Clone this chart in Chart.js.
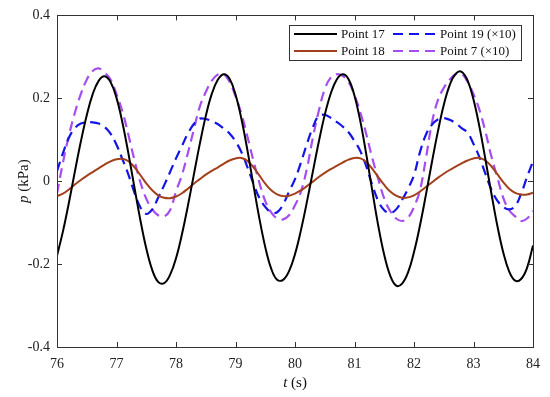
<!DOCTYPE html>
<html>
<head>
<meta charset="utf-8">
<script src="https://cdn.jsdelivr.net/npm/chart.js@4/dist/chart.umd.min.js"></script>
<style>
  html, body { margin: 0; padding: 0; background: #fff; }
  #wrap { width: 550px; height: 397px; }
</style>
</head>
<body>
<div id="wrap"><canvas id="chart" width="550" height="397"></canvas></div>
<script>
// time axis, 0.1 s steps
const times = [];
for (let i = 0; i <= 80; i++) times.push(+(76 + i * 0.1).toFixed(1));

const xTicks = [76, 77, 78, 79, 80, 81, 82, 83, 84];
const yTicks = [-0.4, -0.2, 0, 0.2, 0.4];

// Point 17 (kPa)
const point17 = [
  -0.180, -0.121, -0.052, 0.023, 0.095, 0.159, 0.210, 0.242, 0.253, 0.239,
  0.201, 0.141, 0.067, -0.014, -0.093, -0.162, -0.214, -0.243, -0.246, -0.226,
  -0.186, -0.128, -0.059, 0.016, 0.090, 0.157, 0.210, 0.244, 0.258, 0.247,
  0.209, 0.150, 0.075, -0.008, -0.089, -0.159, -0.211, -0.238, -0.238, -0.217,
  -0.176, -0.118, -0.050, 0.023, 0.095, 0.160, 0.211, 0.245, 0.258, 0.246,
  0.206, 0.143, 0.063, -0.024, -0.108, -0.178, -0.228, -0.252, -0.247, -0.220,
  -0.171, -0.107, -0.033, 0.045, 0.119, 0.184, 0.232, 0.259, 0.264, 0.243,
  0.197, 0.131, 0.053, -0.029, -0.107, -0.172, -0.218, -0.240, -0.236, -0.209,
  -0.155
];

// Point 18 (kPa)
const point18 = [
  -0.036, -0.030, -0.020, -0.008, 0.003, 0.013, 0.022, 0.031, 0.040, 0.048,
  0.053, 0.054, 0.048, 0.034, 0.015, -0.005, -0.022, -0.034, -0.040, -0.041,
  -0.037, -0.029, -0.018, -0.006, 0.005, 0.016, 0.025, 0.033, 0.042, 0.050,
  0.055, 0.056, 0.049, 0.034, 0.014, -0.006, -0.022, -0.032, -0.036, -0.035,
  -0.030, -0.022, -0.012, -0.001, 0.010, 0.020, 0.029, 0.037, 0.045, 0.052,
  0.056, 0.055, 0.046, 0.030, 0.010, -0.009, -0.025, -0.035, -0.040, -0.039,
  -0.034, -0.025, -0.014, -0.003, 0.008, 0.018, 0.027, 0.035, 0.043, 0.050,
  0.055, 0.056, 0.050, 0.036, 0.017, -0.002, -0.018, -0.028, -0.032, -0.032,
  -0.028
];

// Point 19 (x10)
const point19 = [
  0.024, 0.068, 0.105, 0.128, 0.139, 0.142, 0.142, 0.139, 0.131, 0.115,
  0.088, 0.053, 0.016, -0.027, -0.063, -0.079, -0.068, -0.040, -0.010, 0.022,
  0.055, 0.085, 0.115, 0.138, 0.151, 0.150, 0.145, 0.138, 0.127, 0.115,
  0.096, 0.070, 0.034, -0.005, -0.040, -0.062, -0.075, -0.075, -0.056, -0.025,
  0.005, 0.045, 0.090, 0.130, 0.158, 0.160, 0.153, 0.143, 0.132, 0.118,
  0.097, 0.072, 0.035, -0.010, -0.048, -0.070, -0.077, -0.068, -0.045, -0.018,
  0.015, 0.070, 0.112, 0.136, 0.149, 0.152, 0.148, 0.140, 0.128, 0.117,
  0.090, 0.058, 0.018, -0.020, -0.047, -0.062, -0.068, -0.060, -0.030, 0.010,
  0.048
];

// Point 7 (x10)
const point7 = [
  -0.030, 0.045, 0.110, 0.165, 0.210, 0.245, 0.266, 0.272, 0.262, 0.245,
  0.210, 0.168, 0.112, 0.052, -0.002, -0.042, -0.068, -0.082, -0.085, -0.070,
  -0.025, 0.015, 0.068, 0.125, 0.180, 0.215, 0.242, 0.257, 0.259, 0.240,
  0.205, 0.162, 0.108, 0.050, -0.003, -0.048, -0.075, -0.090, -0.092, -0.082,
  -0.058, -0.025, 0.030, 0.105, 0.170, 0.222, 0.250, 0.258, 0.254, 0.240,
  0.208, 0.165, 0.112, 0.055, 0.005, -0.042, -0.072, -0.090, -0.096, -0.088,
  -0.062, -0.022, 0.055, 0.140, 0.195, 0.225, 0.245, 0.258, 0.259, 0.240,
  0.210, 0.172, 0.120, 0.060, 0.010, -0.040, -0.070, -0.085, -0.096, -0.090,
  -0.072
];

const seriesNames = ["Point 17", "Point 18", "Point 19 (\u00d710)", "Point 7 (\u00d710)"];

const FONT = "'Liberation Serif', 'Times New Roman', serif";
const AXIS = "#333";

const pts = arr => arr.map((v, i) => ({ x: times[i], y: v }));

// inward ticks, box, legend and axis titles
const frame = {
  id: "frame",
  afterDraw(chart) {
    const { ctx, chartArea: a, scales: { x, y } } = chart;
    ctx.save();
    ctx.strokeStyle = AXIS;
    ctx.lineWidth = 1;
    ctx.strokeRect(Math.round(a.left) + 0.5, Math.round(a.top) + 0.5,
      Math.round(a.right - a.left), Math.round(a.bottom - a.top));
    ctx.beginPath();
    xTicks.slice(1, -1).forEach(v => {
      const px = Math.round(x.getPixelForValue(v)) + 0.5;
      ctx.moveTo(px, a.bottom); ctx.lineTo(px, a.bottom - 5);
      ctx.moveTo(px, a.top); ctx.lineTo(px, a.top + 5);
    });
    yTicks.slice(1, -1).forEach(v => {
      const py = Math.round(y.getPixelForValue(v)) + 0.5;
      ctx.moveTo(a.left, py); ctx.lineTo(a.left + 5, py);
      ctx.moveTo(a.right, py); ctx.lineTo(a.right - 5, py);
    });
    ctx.stroke();

    // legend
    const lx = 289, ly = 25, lw = 232, lh = 35;
    ctx.fillStyle = "#fff";
    ctx.fillRect(lx, ly, lw, lh);
    ctx.strokeStyle = AXIS;
    ctx.strokeRect(lx + 0.5, ly + 0.5, lw, lh);
    const slots = [[294, 34], [294, 51], [393, 34], [393, 51]];
    ctx.font = "13px " + FONT;
    ctx.textBaseline = "middle";
    chart.data.datasets.forEach((ds, i) => {
      const [sx, sy] = slots[i];
      ctx.beginPath();
      ctx.strokeStyle = ds.borderColor;
      ctx.lineWidth = ds.borderWidth;
      ctx.setLineDash(ds.borderDash || []);
      ctx.moveTo(sx, sy); ctx.lineTo(sx + 43, sy);
      ctx.stroke();
      ctx.setLineDash([]);
      ctx.fillStyle = "#111";
      ctx.fillText(ds.label, sx + 47, sy + 1);
    });

    // axis titles with italic symbols
    ctx.fillStyle = "#111";
    ctx.textBaseline = "alphabetic";
    const mixed = (parts, cx, cy) => {
      let w = 0;
      parts.forEach(p => { ctx.font = p[1] + "15px " + FONT; w += ctx.measureText(p[0]).width; });
      let sx = cx - w / 2;
      parts.forEach(p => {
        ctx.font = p[1] + "15px " + FONT;
        ctx.fillText(p[0], sx, cy);
        sx += ctx.measureText(p[0]).width;
      });
    };
    mixed([["t", "italic "], [" (s)", ""]], (a.left + a.right) / 2, 387);
    ctx.save();
    ctx.translate(28, (a.top + a.bottom) / 2);
    ctx.rotate(-Math.PI / 2);
    mixed([["p", "italic "], [" (kPa)", ""]], 0, 0);
    ctx.restore();
    ctx.restore();
  }
};

new Chart(document.getElementById("chart"), {
  type: "line",
  data: {
    datasets: [
      { label: seriesNames[0], data: pts(point17), borderColor: "#000000", borderWidth: 2 },
      { label: seriesNames[1], data: pts(point18), borderColor: "#a3401c", borderWidth: 2 },
      { label: seriesNames[2], data: pts(point19), borderColor: "#1414e6", borderWidth: 2.2, borderDash: [10, 6] },
      { label: seriesNames[3], data: pts(point7), borderColor: "#a64df2", borderWidth: 2.2, borderDash: [10, 6] }
    ]
  },
  options: {
    responsive: false,
    animation: false,
    elements: { point: { radius: 0 }, line: { tension: 0.4, fill: false } },
    layout: { padding: { left: 0, right: 17, top: 14, bottom: 0 } },
    plugins: { legend: { display: false }, tooltip: { enabled: false } },
    scales: {
      x: {
        type: "linear", min: 76, max: 84,
        afterBuildTicks: s => { s.ticks = xTicks.map(v => ({ value: v })); },
        afterFit: s => { s.height = 50; },
        grid: { display: false, drawTicks: false },
        border: { display: false },
        ticks: { color: "#222", font: { family: FONT, size: 14 }, padding: 9, maxRotation: 0 }
      },
      y: {
        type: "linear", min: -0.4, max: 0.4,
        afterBuildTicks: s => { s.ticks = yTicks.map(v => ({ value: v })); },
        afterFit: s => { s.width = 57; },
        grid: { display: false, drawTicks: false },
        border: { display: false },
        ticks: {
          color: "#222", font: { family: FONT, size: 14 }, padding: 7,
          callback: v => v === 0 ? "0" : v.toFixed(1)
        }
      }
    }
  },
  plugins: [frame]
});
</script>
</body>
</html>
